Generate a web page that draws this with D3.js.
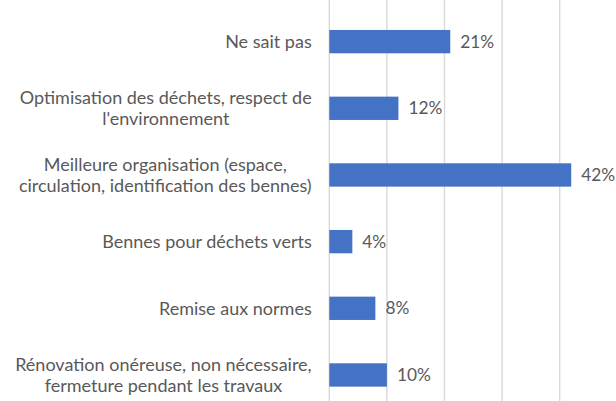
<!DOCTYPE html>
<html><head><meta charset="utf-8">
<script src="https://cdn.jsdelivr.net/npm/d3@7"></script>
<style>html,body{margin:0;padding:0;background:#fff;}svg{display:block;}</style>
</head><body>
<svg id="chart" width="616" height="401"></svg>
<script>
const categories = [
  "Ne sait pas",
  "Optimisation des déchets, respect de\nl'environnement",
  "Meilleure organisation (espace,\ncirculation, identification des bennes)",
  "Bennes pour déchets verts",
  "Remise aux normes",
  "Rénovation onéreuse, non nécessaire,\nfermeture pendant les travaux"
];
const values = [21, 12, 42, 4, 8, 10];
const xTicks = [0, 10, 20, 30, 40, 50];

const W = 616, H = 401;
const svg = d3.select("#chart");
const x = d3.scaleLinear().domain([0, 50]).range([329.3, 617.3]);
const y = d3.scaleBand().domain(categories).range([18.3, 398.3]).paddingInner(0.65).paddingOuter(0.175);

const font = "Lato, 'Open Sans', sans-serif";
const textColor = "#595959";
const fs = 18;

// gridlines
svg.append("g").selectAll("line").data(xTicks).join("line")
  .attr("x1", d => x(d)).attr("x2", d => x(d))
  .attr("y1", 0).attr("y2", H)
  .attr("stroke", "#D9D9D9").attr("stroke-width", 1.4);

// bars
svg.append("g").selectAll("rect").data(categories).join("rect")
  .attr("x", x(0)).attr("y", d => y(d))
  .attr("width", (d, i) => x(values[i]) - x(0))
  .attr("height", y.bandwidth())
  .attr("fill", "#4472C4");

// value labels
svg.append("g").selectAll("text").data(categories).join("text")
  .attr("x", (d, i) => x(values[i]) + 10)
  .attr("y", d => y(d) + y.bandwidth() / 2)
  .attr("dy", "0.35em")
  .attr("font-family", font).attr("font-size", 17.3)
  .attr("fill", textColor)
  .text((d, i) => values[i] + "%");

// category labels
const lh = 21;
const lab = svg.append("g").selectAll("text").data(categories).join("text")
  .attr("text-anchor", "middle")
  .attr("font-family", font).attr("font-size", fs)
  .attr("fill", textColor)
  .attr("transform", d => `translate(0, ${y(d) + y.bandwidth() / 2})`);
lab.each(function(d) {
  const lines = d.split("\n");
  const t = d3.select(this);
  lines.forEach((ln, j) => {
    t.append("tspan").attr("x", 0)
      .attr("y", (j - (lines.length - 1) / 2) * lh)
      .attr("dy", "0.35em").text(ln);
  });
});
// right-align the label block at x = 311.7, center lines within block
lab.each(function() {
  const t = d3.select(this);
  let maxW = 0;
  t.selectAll("tspan").each(function() { maxW = Math.max(maxW, this.getComputedTextLength()); });
  t.selectAll("tspan").attr("x", 311.7 - maxW / 2);
});
</script>
</body></html>
